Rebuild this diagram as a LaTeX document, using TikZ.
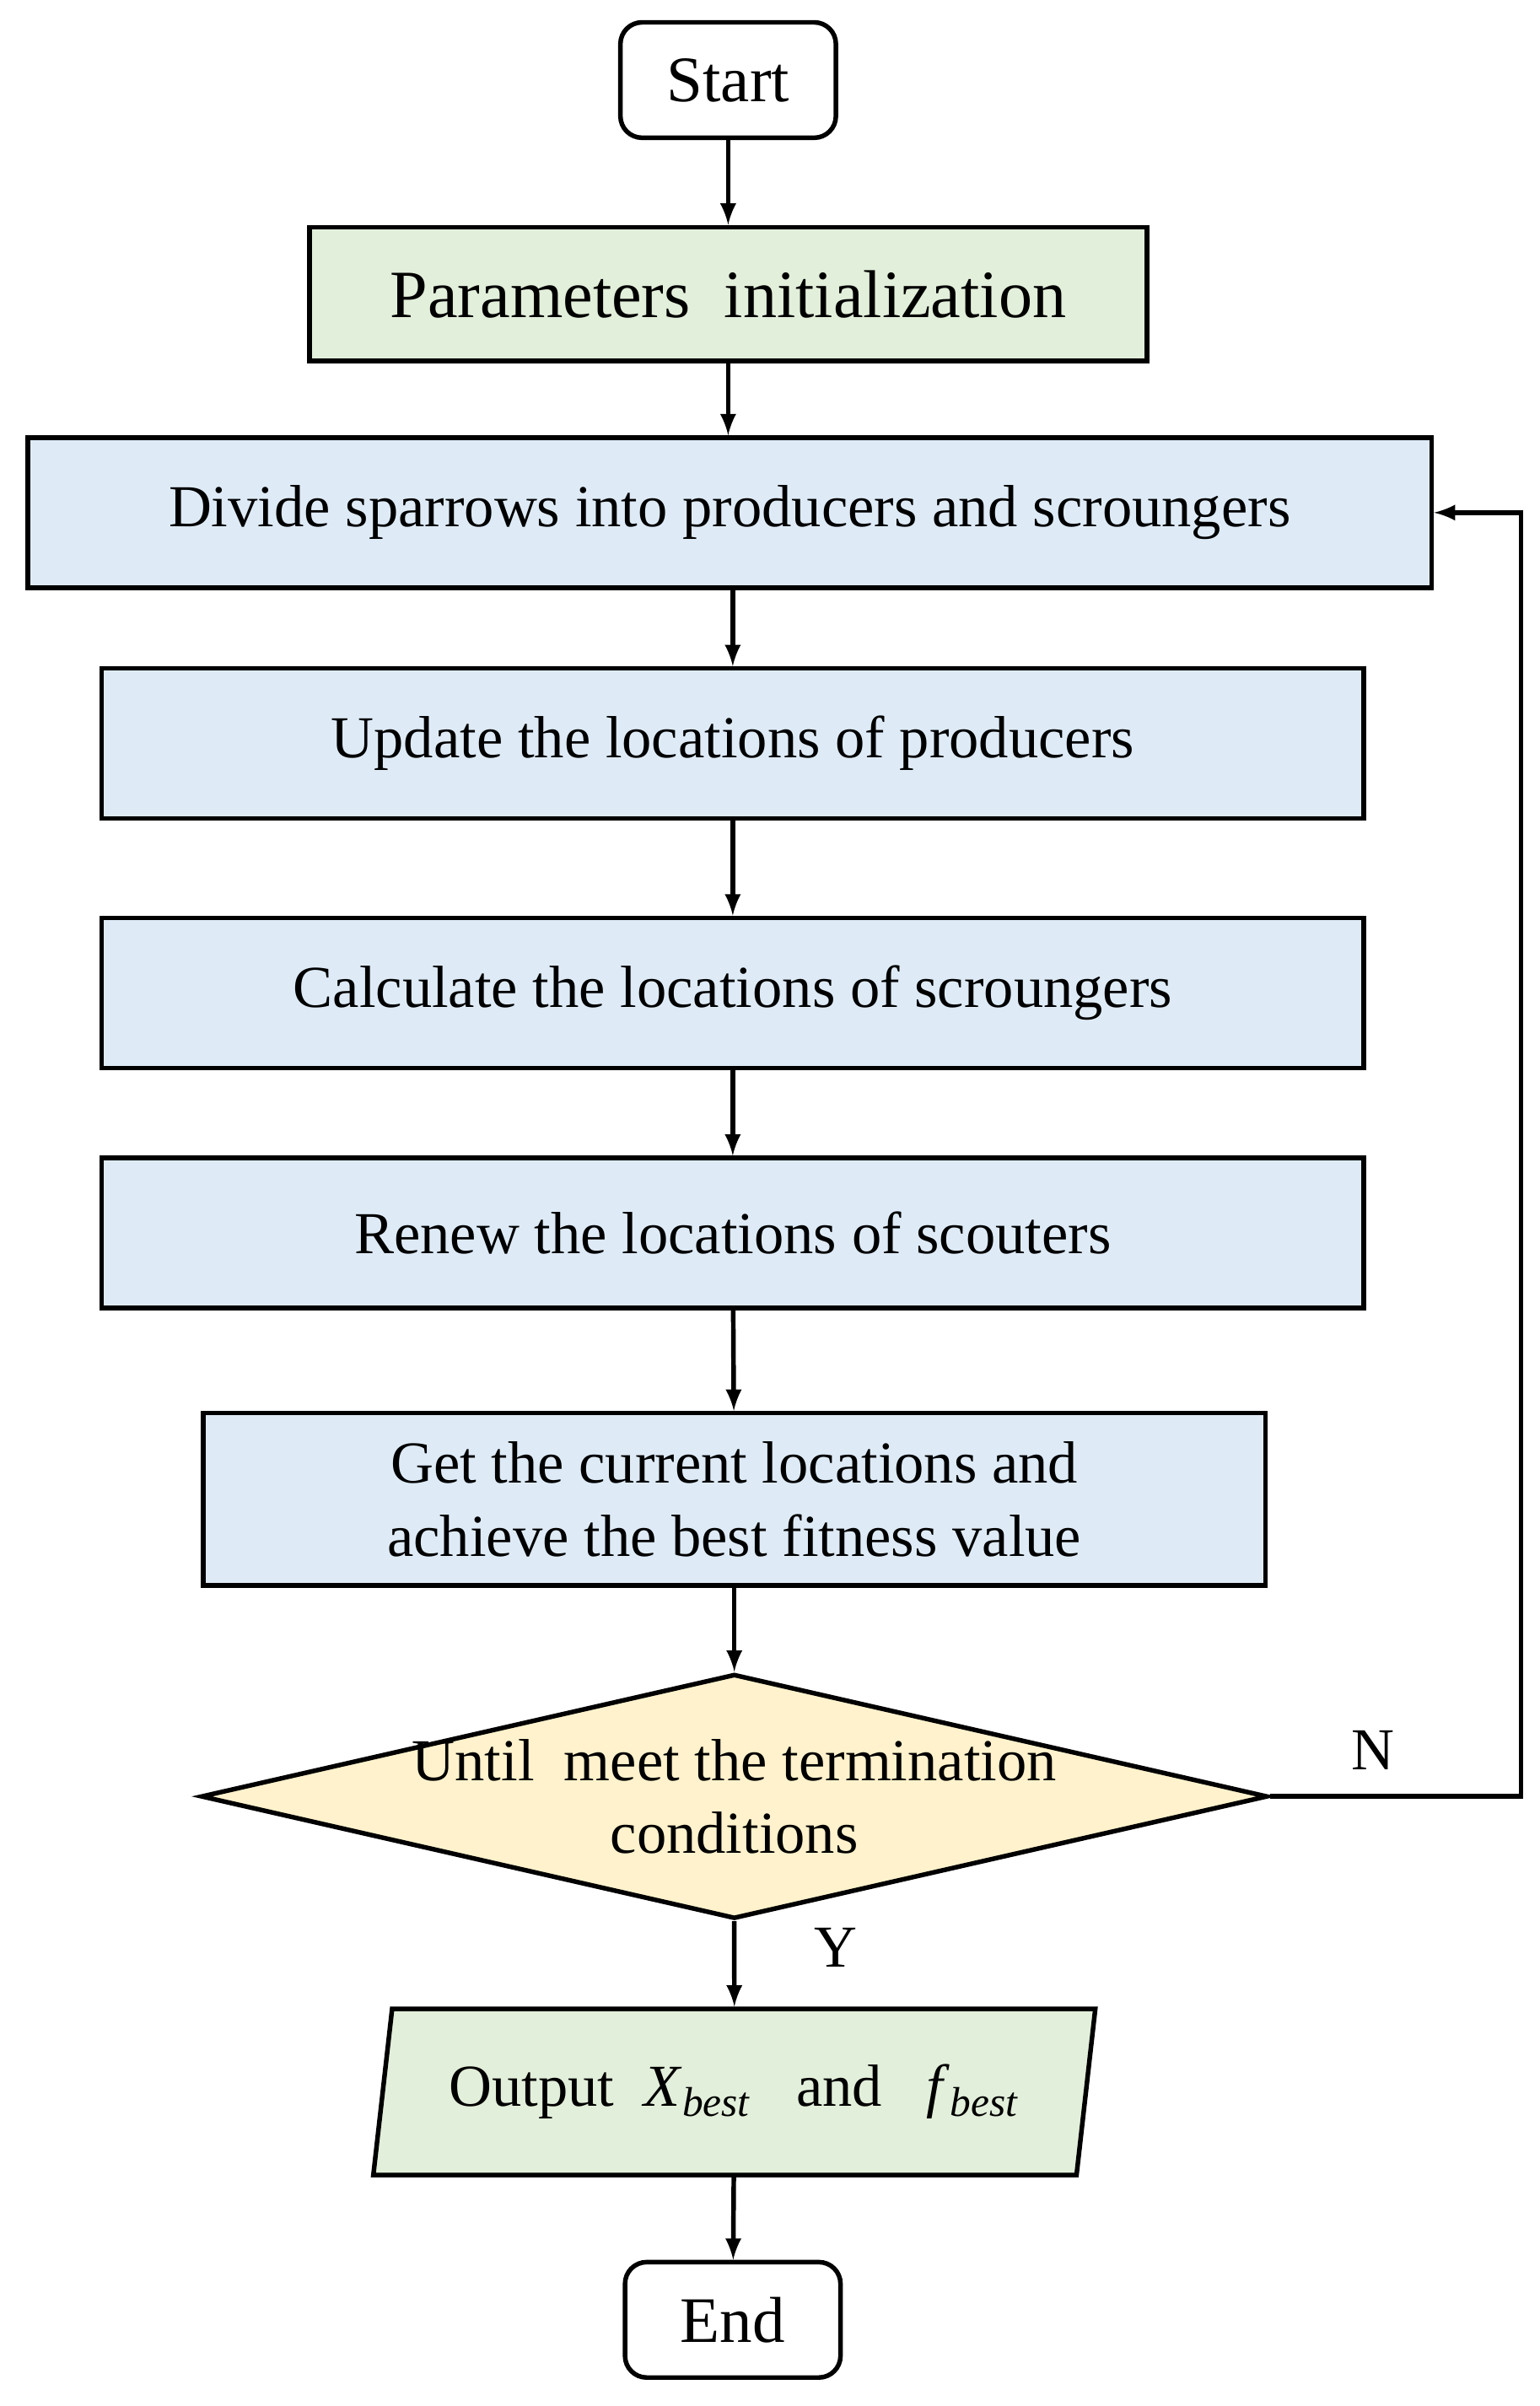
\documentclass[tikz,border=0pt]{standalone}
\usepackage{fontspec}
\setmainfont{Liberation Serif}
\usetikzlibrary{shapes.geometric}
\definecolor{initgreen}{RGB}{226,239,218}
\definecolor{stepblue}{RGB}{222,235,247}
\definecolor{checkyellow}{RGB}{255,242,204}
\tikzset{
  flow/.style={draw, line width=1.7pt, inner sep=0pt, font=\fontsize{22}{27}\selectfont},
  term/.style={flow, rounded corners=8pt, minimum width=2.8cm, minimum height=1.5cm, font=\fontsize{24}{28}\selectfont},
  stage/.style={flow, fill=stepblue, minimum height=1.95cm},
  dec/.style={draw, line width=1.7pt, diamond, fill=checkyellow, minimum width=13.86cm, minimum height=3.18cm, inner sep=0pt},
  io/.style={flow, trapezium, trapezium left angle=74, trapezium right angle=106, trapezium stretches=true, fill=initgreen, minimum width=9.4cm, minimum height=2.16cm},
  arr/.style={-latex, line width=1.7pt}
}
\begin{document}
\begin{tikzpicture}[x=0.02cm, y=-0.02cm]
  \useasboundingbox (0,0) rectangle (1000,1563);
  % Nodes
  \node[term] (start) at (473,52) {Start};
  \node[flow, fill=initgreen, minimum width=10.88cm, minimum height=1.74cm, font=\fontsize{25}{30}\selectfont] (init) at (473,191) {Parameters\ \ initialization};
  \node[stage, minimum width=18.24cm] (divide) at (474,333) {Divide sparrows into producers and scroungers};
  \node[stage, minimum width=16.4cm] (update) at (476,483) {Update the locations of producers};
  \node[stage, minimum width=16.4cm] (calc) at (476,645) {Calculate the locations of scroungers};
  \node[stage, minimum width=16.4cm] (renew) at (476,801) {Renew the locations of scouters};
  \node[stage, minimum width=13.8cm, minimum height=2.24cm, align=center] (get) at (477,974) {Get the current locations and\\achieve the best fitness value};
  \node[dec] (check) at (477,1167) {};
  \node[font=\fontsize{22}{27}\selectfont, align=center] (checktext) at (check) {Until\ \ meet the termination\\conditions};
  \node[io] (out) at (477,1359) {Output\ \ \textit{X}\textsubscript{\textit{best}}\ \ \ and\ \ \ \textit{f}\textsubscript{\textit{best}}};
  \node[term] (end) at (476,1507) {End};
  \coordinate (loopr) at (988,1167);
  \coordinate (loopt) at (988,333);

  % Edges
  \draw[arr] (start) -- (init);
  \draw[arr] (init) -- (init |- divide.north);
  \draw[arr] (divide.south -| update) -- (update);
  \draw[arr] (update) -- (calc);
  \draw[arr] (calc) -- (renew);
  \draw[arr] (renew) -- (get);
  \draw[arr] (get) -- (check.north);
  \draw[arr] (check.south) -- (out);
  \draw[arr] (out) -- (end);
  \draw[arr] (check.east) -- (loopr) -- (loopt) -- (divide.east);

  % Labels
  \node[font=\fontsize{22}{27}\selectfont] (nlab) at (892,1137) {N};
  \node[font=\fontsize{22}{27}\selectfont] (ylab) at (543,1265) {Y};
\end{tikzpicture}
\end{document}
